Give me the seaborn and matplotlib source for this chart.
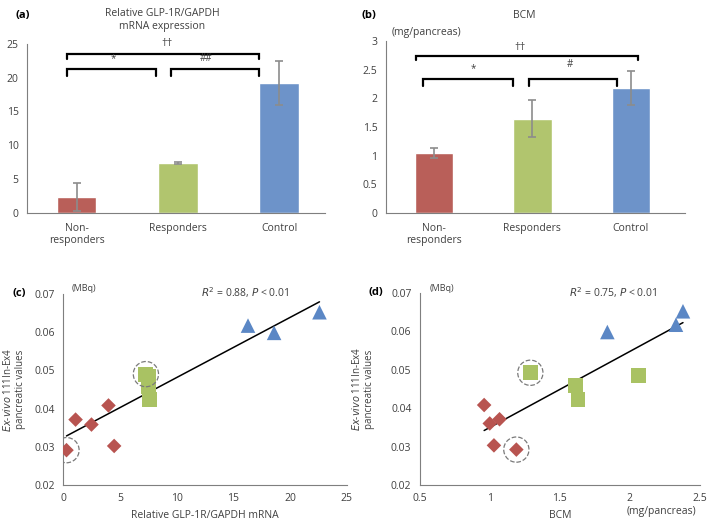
import numpy as np
import pandas as pd
import seaborn as sns
import matplotlib.pyplot as plt

# bar data
groups = ["Non-\nresponders", "Responders", "Control"]
mrna_mean = [2.4, 7.4, 19.2]
mrna_err = [2.1, 0.15, 3.2]
bcm_mean = [1.05, 1.65, 2.18]
bcm_err = [0.09, 0.32, 0.30]

# scatter data (c): mRNA vs uptake, (d): BCM vs uptake
grp_pts = ["Non-responders"] * 5 + ["Responders"] * 4 + ["Control"] * 3
mrna_x = [0.3, 1.1, 2.5, 4.0, 4.5, 7.3, 7.5, 7.5, 7.6, 16.3, 18.6, 22.6]
mrna_y = [0.0291, 0.0371, 0.0358, 0.0408, 0.0302, 0.0490, 0.0485, 0.0458, 0.0423, 0.0617, 0.0598, 0.0652]
bcm_x = [1.19, 1.07, 1.00, 0.96, 1.03, 1.29, 2.06, 1.61, 1.63, 2.33, 1.84, 2.38]
bcm_y = [0.0292, 0.0371, 0.0360, 0.0408, 0.0303, 0.0492, 0.0485, 0.0458, 0.0423, 0.0617, 0.0598, 0.0652]
circled_c = [0, 5]
circled_d = [0, 5]

colors = {"Non-responders": "#B95F59", "Responders": "#B1C56E", "Control": "#6D93C9"}
pt_colors = {"Non-responders": "#B85450", "Responders": "#A9C263", "Control": "#5B87C5"}
markers = {"Non-responders": "D", "Responders": "s", "Control": "^"}
sizes = {"Non-responders": 55, "Responders": 115, "Control": 110}

sns.set_style("white")
plt.rcParams["font.family"] = ["Open Sans", "DejaVu Sans"]
plt.rcParams["font.size"] = 7.5
txt = "#404040"
plt.rcParams["text.color"] = txt
plt.rcParams["xtick.color"] = txt
plt.rcParams["ytick.color"] = txt
plt.rcParams["axes.labelcolor"] = txt

fig = plt.figure(figsize=(7.09, 5.22), dpi=100)
ax_a = fig.add_axes([0.038, 0.592, 0.420, 0.324])
ax_b = fig.add_axes([0.544, 0.592, 0.422, 0.329])
ax_c = fig.add_axes([0.089, 0.071, 0.400, 0.366])
ax_d = fig.add_axes([0.592, 0.071, 0.395, 0.368])


def style_axes(ax):
    for s in ["top", "right"]:
        ax.spines[s].set_visible(False)
    for s in ["left", "bottom"]:
        ax.spines[s].set_color("#7f7f7f")
        ax.spines[s].set_linewidth(0.8)
    ax.tick_params(axis="both", length=3, width=0.8, color="#7f7f7f", labelsize=7.5, pad=3)


def bracket(ax, x0, x1, y, drop):
    ax.plot([x0, x0, x1, x1], [y - drop, y, y, y - drop], color="black", lw=1.6,
            solid_joinstyle="miter", clip_on=False)


# (a) and (b) bars
for ax, means, errs in [(ax_a, mrna_mean, mrna_err), (ax_b, bcm_mean, bcm_err)]:
    sns.barplot(x=groups, y=means, hue=groups, palette=list(colors.values()), width=0.39,
                legend=False, ax=ax, saturation=1)
    ax.errorbar(range(3), means, yerr=errs, fmt="none", ecolor="#8c8c8c", elinewidth=1.2,
                capsize=3, capthick=1.2)
    style_axes(ax)
    ax.tick_params(axis="x", length=0, pad=7)

ax_a.set_ylim(0, 25)
ax_a.set_yticks([0, 5, 10, 15, 20, 25])
ax_a.set_xlim(-0.49, 2.45)
bracket(ax_a, -0.09, 1.80, 23.5, 0.8)
bracket(ax_a, -0.09, 0.78, 21.3, 1.0)
bracket(ax_a, 0.93, 1.80, 21.3, 1.0)
ax_a.text(0.36, 22.0, "*", ha="center", va="bottom", fontsize=7)
ax_a.text(1.28, 22.0, "##", ha="center", va="bottom", fontsize=7)
ax_a.text(0.89, 24.3, "††", ha="center", va="bottom", fontsize=8)

ax_b.set_ylim(0, 3)
ax_b.set_yticks([0, 0.5, 1, 1.5, 2, 2.5, 3])
ax_b.set_yticklabels(["0", "0.5", "1", "1.5", "2", "2.5", "3"])
ax_b.set_xlim(-0.49, 2.55)
bracket(ax_b, -0.18, 2.07, 2.74, 0.06)
bracket(ax_b, -0.11, 0.80, 2.34, 0.12)
bracket(ax_b, 0.97, 1.86, 2.34, 0.12)
ax_b.text(0.40, 2.43, "*", ha="center", va="bottom", fontsize=7)
ax_b.text(1.38, 2.50, "#", ha="center", va="bottom", fontsize=7)
ax_b.text(0.87, 2.80, "††", ha="center", va="bottom", fontsize=8)


# (c) and (d) scatter
def scatter_panel(ax, xs, ys, circled):
    df = pd.DataFrame({"x": xs, "y": ys, "g": grp_pts})
    for g in markers:
        sub = df[df["g"] == g]
        sns.scatterplot(data=sub, x="x", y="y", marker=markers[g], color=pt_colors[g],
                        s=sizes[g], edgecolor="none", ax=ax, zorder=3)
    k, b = np.polyfit(xs, ys, 1)
    xl = np.array([min(xs), max(xs)])
    ax.plot(xl, k * xl + b, color="black", lw=1.1, zorder=2)
    cx = [xs[i] for i in circled]
    cy = [ys[i] for i in circled]
    ax.scatter(cx, cy, s=330, facecolors="none", edgecolors="#7a7a7a", linewidths=0.9,
               linestyles="--", zorder=4)
    ax.set_ylim(0.02, 0.07)
    ax.set_yticks([0.02, 0.03, 0.04, 0.05, 0.06, 0.07])
    ax.set_yticklabels(["0.02", "0.03", "0.04", "0.05", "0.06", "0.07"])
    ax.set_ylabel("$\\it{Ex}$-$\\it{vivo}$ 111In-Ex4\npancreatic values", fontsize=7,
                  linespacing=1.15)
    style_axes(ax)


scatter_panel(ax_c, mrna_x, mrna_y, circled_c)
ax_c.set_xlim(0, 25)
ax_c.set_xticks([0, 5, 10, 15, 20, 25])
ax_c.set_xlabel("Relative GLP-1R/GAPDH mRNA", fontsize=7.5)
ax_c.yaxis.set_label_coords(-0.13, 0.5)

scatter_panel(ax_d, bcm_x, bcm_y, circled_d)
ax_d.set_xlim(0.5, 2.5)
ax_d.set_xticks([0.5, 1, 1.5, 2, 2.5])
ax_d.set_xticklabels(["0.5", "1", "1.5", "2", "2.5"])
ax_d.set_xlabel("BCM", fontsize=7.5)
ax_d.yaxis.set_label_coords(-0.16, 0.5)

# texts
fig.text(0.022, 0.971, "(a)", fontsize=8, fontweight="bold", color="black", va="center")
fig.text(0.510, 0.971, "(b)", fontsize=8, fontweight="bold", color="black", va="center")
fig.text(0.017, 0.437, "(c)", fontsize=8, fontweight="bold", color="black", va="center")
fig.text(0.520, 0.439, "(d)", fontsize=8, fontweight="bold", color="black", va="center")
fig.text(0.229, 0.962, "Relative GLP-1R/GAPDH\nmRNA expression", ha="center", va="center",
         fontsize=7.5, linespacing=1.25)
fig.text(0.740, 0.971, "BCM", ha="center", va="center", fontsize=7.5)
fig.text(0.553, 0.937, "(mg/pancreas)", ha="left", va="center", fontsize=7.5)
fig.text(0.101, 0.448, "(MBq)", ha="left", va="center", fontsize=6.5)
fig.text(0.606, 0.448, "(MBq)", ha="left", va="center", fontsize=6.5)
fig.text(0.346, 0.439, "$\\it{R}^2$ = 0.88, $\\it{P}$ < 0.01", ha="center", va="center", fontsize=7.5)
fig.text(0.865, 0.439, "$\\it{R}^2$ = 0.75, $\\it{P}$ < 0.01", ha="center", va="center", fontsize=7.5)
fig.text(0.933, 0.020, "(mg/pancreas)", ha="center", va="center", fontsize=7.5)

fig.savefig("out.png", dpi=100, facecolor="white")
